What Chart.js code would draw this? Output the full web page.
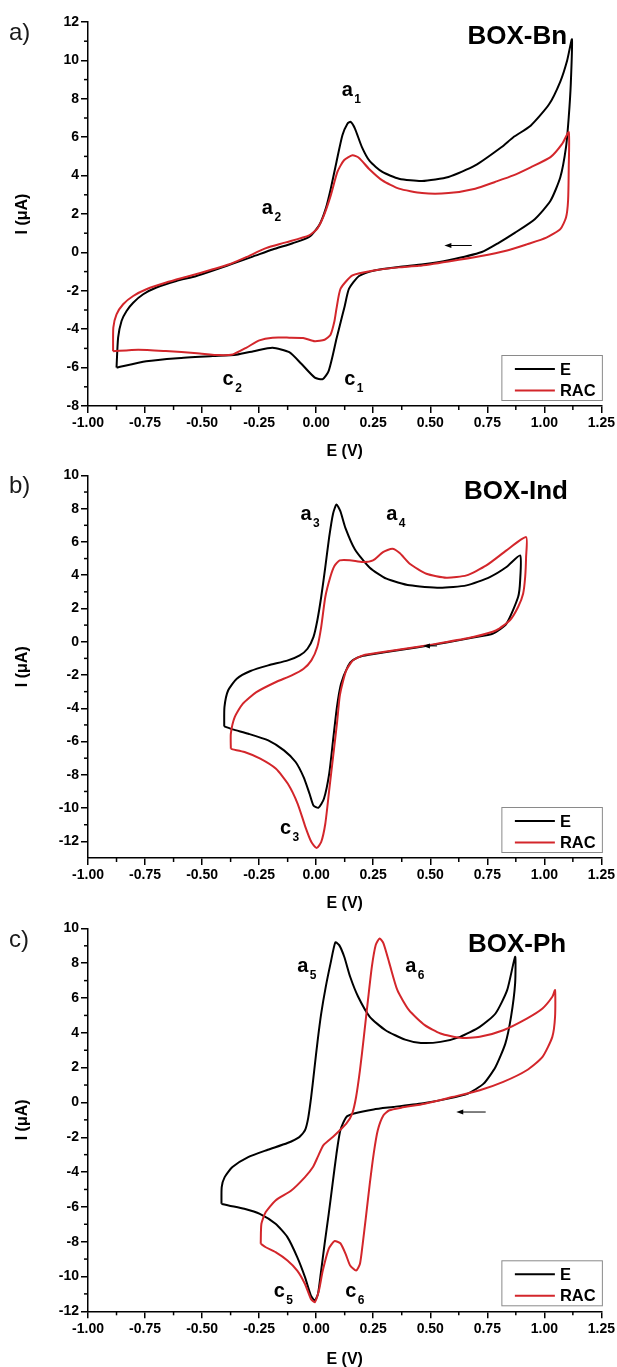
<!DOCTYPE html>
<html>
<head>
<meta charset="utf-8">
<title>CV BOX-Bn / BOX-Ind / BOX-Ph</title>
<script src="https://cdn.jsdelivr.net/npm/chart.js@4.4.1/dist/chart.umd.min.js"></script>
<style>
  html, body { margin: 0; padding: 0; background: #fff; }
  body { width: 617px; height: 1367px; position: relative; overflow: hidden; }
  canvas { position: absolute; left: 0; }
</style>
</head>
<body>
<canvas id="chartA" width="617" height="465" style="top:0px"></canvas>
<canvas id="chartB" width="617" height="453" style="top:465px"></canvas>
<canvas id="chartC" width="617" height="449" style="top:918px"></canvas>
<script>
// tick labels
const potentialTicks = [-1.00, -0.75, -0.50, -0.25, 0.00, 0.25, 0.50, 0.75, 1.00, 1.25];
const currentTicksA = [-8, -6, -4, -2, 0, 2, 4, 6, 8, 10, 12];
const currentTicksB = [-12, -10, -8, -6, -4, -2, 0, 2, 4, 6, 8, 10];
const currentTicksC = [-12, -10, -8, -6, -4, -2, 0, 2, 4, 6, 8, 10];
const seriesNames = ['E', 'RAC'];

// a) BOX-Bn, E
const bnE_V = [-0.875, -0.868, -0.853, -0.831, -0.802, -0.758, -0.700, -0.613, -0.525, -0.424, -0.365, -0.278, -0.191, -0.103, -0.031,
  0.013, 0.042, 0.064, 0.089, 0.115, 0.137, 0.151, 0.170, 0.200, 0.235, 0.290, 0.363, 0.464, 0.580, 0.697, 0.813, 0.864, 0.940, 1.020, 1.070, 1.100, 1.121,
  1.116, 1.107, 1.095, 1.070, 1.027, 0.958, 0.872, 0.800, 0.726, 0.580, 0.470, 0.362, 0.260, 0.188, 0.144, 0.125, 0.108, 0.089, 0.072, 0.054, 0.029,
  -0.006, -0.065, -0.118, -0.191, -0.264, -0.350, -0.453, -0.608, -0.745, -0.875];
const bnE_I = [-6.00, -4.44, -3.57, -3.05, -2.62, -2.18, -1.83, -1.49, -1.23, -0.83, -0.58, -0.22, 0.15, 0.48, 0.80,
  1.41, 2.28, 3.32, 4.71, 6.10, 6.70, 6.80, 6.45, 5.50, 4.75, 4.19, 3.84, 3.72, 3.93, 4.53, 5.49, 6.00, 6.60, 7.70, 8.90, 10.00, 11.10,
  8.79, 7.05, 5.48, 3.91, 2.69, 1.73, 1.03, 0.50, 0.02, -0.41, -0.62, -0.76, -0.93, -1.23, -1.89, -2.80, -3.60, -4.50, -5.40, -6.20, -6.60,
  -6.52, -5.80, -5.20, -4.97, -5.12, -5.33, -5.40, -5.51, -5.67, -6.00];
// a) BOX-Bn, RAC
const bnRac_V = [-0.890, -0.889, -0.875, -0.846, -0.802, -0.744, -0.657, -0.555, -0.453, -0.380, -0.307, -0.220, -0.133, -0.031,
  0.005, 0.034, 0.064, 0.093, 0.122, 0.159, 0.188, 0.231, 0.290, 0.363, 0.464, 0.580, 0.697, 0.784, 0.864, 0.940, 1.027, 1.078, 1.107,
  1.107, 1.104, 1.095, 1.070, 1.009, 0.923, 0.837, 0.717, 0.580, 0.450, 0.362, 0.260, 0.159, 0.107, 0.089, 0.080, 0.063, 0.037,
  -0.006, -0.057, -0.118, -0.191, -0.249, -0.307, -0.365, -0.424, -0.522, -0.659, -0.780, -0.890];
const bnRac_I = [-5.15, -3.92, -3.23, -2.70, -2.27, -1.92, -1.57, -1.23, -0.88, -0.62, -0.25, 0.22, 0.52, 0.89,
  1.24, 1.93, 2.97, 4.19, 4.80, 5.06, 4.92, 4.36, 3.75, 3.32, 3.09, 3.09, 3.32, 3.67, 4.01, 4.43, 4.96, 5.65, 6.26,
  4.43, 2.69, 1.82, 1.21, 0.77, 0.42, 0.10, -0.20, -0.47, -0.70, -0.78, -0.93, -1.20, -1.89, -2.93, -3.59, -4.29, -4.55,
  -4.63, -4.46, -4.44, -4.44, -4.58, -4.97, -5.31, -5.35, -5.25, -5.14, -5.07, -5.15];

// b) BOX-Ind, E
const indE_V = [-0.403, -0.402, -0.386, -0.348, -0.288, -0.210, -0.124, -0.072, -0.038, -0.012, 0.005, 0.022, 0.040, 0.057, 0.074, 0.089,
  0.106, 0.128, 0.170, 0.235, 0.308, 0.410, 0.542, 0.659, 0.761, 0.834, 0.894,
  0.894, 0.885, 0.834, 0.775, 0.688, 0.571, 0.440, 0.293, 0.205, 0.161, 0.140, 0.109, 0.091, 0.074, 0.057, 0.034, 0.010,
  -0.012, -0.029, -0.055, -0.090, -0.141, -0.210, -0.297, -0.366, -0.403];
const indE_I = [-5.09, -3.93, -2.93, -2.22, -1.76, -1.42, -1.12, -0.82, -0.42, 0.28, 1.28, 2.69, 4.49, 6.29, 7.70, 8.25,
  7.85, 6.85, 5.55, 4.45, 3.79, 3.39, 3.25, 3.39, 3.89, 4.49, 5.19,
  3.69, 2.69, 1.09, 0.49, 0.25, -0.05, -0.35, -0.65, -0.85, -1.10, -1.45, -2.53, -3.93, -5.93, -7.94, -9.44, -9.98,
  -9.84, -9.14, -8.14, -7.23, -6.53, -5.93, -5.53, -5.27, -5.09];
// b) BOX-Ind, RAC
const indRac_V = [-0.374, -0.374, -0.357, -0.322, -0.262, -0.176, -0.107, -0.055, -0.021, 0.005, 0.022, 0.040, 0.062, 0.080, 0.103,
  0.147, 0.205, 0.249, 0.293, 0.334, 0.366, 0.410, 0.483, 0.571, 0.659, 0.746, 0.834, 0.920,
  0.920, 0.916, 0.907, 0.885, 0.849, 0.790, 0.688, 0.571, 0.440, 0.293, 0.205, 0.161, 0.132, 0.115, 0.103, 0.091, 0.074, 0.057, 0.040, 0.022, 0.002,
  -0.021, -0.047, -0.081, -0.124, -0.176, -0.245, -0.314, -0.366, -0.374];
const indRac_I = [-6.43, -5.53, -4.53, -3.73, -3.03, -2.42, -2.02, -1.62, -1.12, -0.32, 0.88, 2.69, 3.89, 4.55, 4.89,
  4.90, 4.79, 4.89, 5.39, 5.59, 5.33, 4.69, 4.09, 3.85, 3.99, 4.59, 5.49, 6.29,
  5.09, 3.89, 2.89, 2.09, 1.29, 0.69, 0.28, -0.02, -0.32, -0.62, -0.82, -1.12, -1.72, -2.52, -3.30, -4.93, -6.93, -8.94, -10.94, -12.04, -12.40,
  -12.04, -11.14, -9.74, -8.54, -7.64, -7.03, -6.63, -6.47, -6.43];

// c) BOX-Ph, E
const phE_V = [-0.415, -0.414, -0.401, -0.367, -0.298, -0.212, -0.126, -0.074, -0.049, -0.035, -0.022, -0.008, 0.006, 0.022, 0.042, 0.063, 0.084,
  0.101, 0.123, 0.149, 0.184, 0.235, 0.304, 0.390, 0.459, 0.545, 0.631, 0.717, 0.786, 0.837, 0.872,
  0.872, 0.854, 0.829, 0.786, 0.734, 0.665, 0.579, 0.476, 0.338, 0.252, 0.166, 0.132, 0.106, 0.089, 0.072, 0.055, 0.037, 0.020, 0.008,
  -0.006, -0.023, -0.049, -0.083, -0.126, -0.178, -0.247, -0.315, -0.384, -0.415];
const phE_I = [-5.82, -4.86, -4.29, -3.71, -3.14, -2.72, -2.33, -1.99, -1.60, -0.90, 0.30, 1.90, 3.50, 5.10, 6.64, 7.99, 9.20,
  9.04, 8.37, 7.22, 6.07, 4.92, 4.15, 3.61, 3.42, 3.48, 3.77, 4.34, 5.11, 6.45, 8.37,
  6.84, 4.92, 3.38, 2.04, 1.08, 0.51, 0.22, -0.03, -0.26, -0.40, -0.64, -0.84, -1.60, -2.95, -4.67, -6.40, -8.12, -9.85, -11.00,
  -11.38, -11.10, -10.04, -8.89, -7.74, -6.97, -6.40, -6.11, -5.92, -5.82];
// c) BOX-Ph, RAC
const phRac_V = [-0.243, -0.240, -0.221, -0.178, -0.109, -0.049, -0.014, 0.008, 0.032, 0.080, 0.132, 0.158, 0.175, 0.192, 0.209, 0.227, 0.244, 0.261, 0.278,
  0.295, 0.321, 0.356, 0.407, 0.476, 0.545, 0.631, 0.717, 0.820, 0.923, 0.992, 1.035, 1.047,
  1.047, 1.035, 0.992, 0.923, 0.820, 0.717, 0.596, 0.476, 0.373, 0.321, 0.295, 0.270, 0.252, 0.235, 0.218, 0.204, 0.192, 0.175,
  0.149, 0.129, 0.106, 0.080, 0.055, 0.029, 0.012, -0.006, -0.023, -0.049, -0.083, -0.126, -0.178, -0.221, -0.243];
const phRac_I = [-8.12, -6.97, -6.30, -5.63, -5.06, -4.29, -3.71, -3.10, -2.45, -1.90, -1.22, -0.64, 0.31, 1.85, 3.77, 5.88, 7.79, 9.04, 9.42,
  9.14, 7.99, 6.45, 5.30, 4.44, 3.96, 3.71, 3.77, 4.15, 4.82, 5.40, 6.07, 6.45,
  4.92, 3.77, 2.62, 1.85, 1.18, 0.70, 0.31, -0.07, -0.30, -0.45, -0.74, -1.60, -2.95, -4.67, -6.59, -8.12, -9.27, -9.66,
  -9.37, -8.70, -8.09, -7.97, -8.41, -9.66, -10.81, -11.48, -11.29, -10.43, -9.66, -9.08, -8.60, -8.32, -8.12];

const FONT = '"Liberation Sans", Arial, Helvetica, sans-serif';
const RED = '#d3262b';

function pairs(vs, is) {
  return vs.map((v, i) => ({ x: v, y: is[i] }));
}

// minor ticks halfway between the major ones, drawn outside the axes
const minorTicks = {
  id: 'minorTicks',
  afterDraw(chart) {
    const { ctx, scales: { x, y } } = chart;
    ctx.save();
    ctx.strokeStyle = '#000';
    ctx.lineWidth = 1.5;
    const xs = x.ticks.map(t => t.value);
    for (let i = 0; i < xs.length - 1; i++) {
      const px = x.getPixelForValue((xs[i] + xs[i + 1]) / 2);
      ctx.beginPath();
      ctx.moveTo(px, x.top);
      ctx.lineTo(px, x.top + 4);
      ctx.stroke();
    }
    const ys = y.ticks.map(t => t.value);
    for (let i = 0; i < ys.length - 1; i++) {
      const py = y.getPixelForValue((ys[i] + ys[i + 1]) / 2);
      ctx.beginPath();
      ctx.moveTo(y.right, py);
      ctx.lineTo(y.right - 4, py);
      ctx.stroke();
    }
    ctx.restore();
  }
};

// panel letter, compound name, peak labels, scan arrow and legend box
const cvNotes = {
  id: 'cvNotes',
  afterDraw(chart, args, opts) {
    const { ctx, chartArea: ca, scales: { x, y } } = chart;
    ctx.save();
    ctx.textAlign = 'left';
    ctx.textBaseline = 'alphabetic';

    ctx.fillStyle = '#1a1a1a';
    ctx.font = `24px ${FONT}`;
    ctx.fillText(opts.letter, 9, opts.letterY);

    ctx.fillStyle = '#000';
    ctx.font = `bold 26px ${FONT}`;
    ctx.fillText(opts.name, x.getPixelForValue(opts.nameAt[0]), y.getPixelForValue(opts.nameAt[1]));

    opts.peaks.forEach(([main, sub, vx, vy]) => {
      const px = x.getPixelForValue(vx);
      const py = y.getPixelForValue(vy);
      ctx.font = `bold 20px ${FONT}`;
      ctx.fillText(main, px, py);
      const w = ctx.measureText(main).width;
      ctx.font = `bold 12px ${FONT}`;
      ctx.fillText(sub, px + w + 1.5, py + 7);
    });

    // scan direction arrow
    const [ax1, ax2, ay] = opts.arrow;
    const p1 = x.getPixelForValue(ax1), p2 = x.getPixelForValue(ax2), pa = y.getPixelForValue(ay);
    ctx.strokeStyle = '#000';
    ctx.lineWidth = 1;
    ctx.beginPath();
    ctx.moveTo(p1, pa);
    ctx.lineTo(p2 + 5, pa);
    ctx.stroke();
    ctx.beginPath();
    ctx.moveTo(p2, pa);
    ctx.lineTo(p2 + 7, pa - 2.5);
    ctx.lineTo(p2 + 7, pa + 2.5);
    ctx.closePath();
    ctx.fill();

    // legend
    const right = ca.right + 1.5, left = right - 101.5;
    const bottom = ca.bottom - 5, top = bottom - 46;
    ctx.fillStyle = '#fff';
    ctx.fillRect(left, top, right - left, bottom - top);
    ctx.strokeStyle = '#8a8a8a';
    ctx.lineWidth = 1;
    ctx.strokeRect(left + 0.5, top + 0.5, right - left - 1, bottom - top - 1);
    const rows = [[seriesNames[0], '#000', top + 14], [seriesNames[1], RED, top + 35.5]];
    ctx.font = `bold 16.5px ${FONT}`;
    ctx.textBaseline = 'middle';
    rows.forEach(([label, color, ry]) => {
      ctx.strokeStyle = color;
      ctx.lineWidth = 2;
      ctx.beginPath();
      ctx.moveTo(left + 13.5, ry);
      ctx.lineTo(left + 53.5, ry);
      ctx.stroke();
      ctx.fillStyle = '#000';
      ctx.fillText(label, left + 58.5, ry + 1);
    });
    ctx.restore();
  }
};

function makePanel(id, p) {
  return new Chart(document.getElementById(id), {
    type: 'scatter',
    data: {
      datasets: [
        { label: seriesNames[0], data: pairs(p.eV, p.eI), borderColor: '#000', order: 2 },
        { label: seriesNames[1], data: pairs(p.rV, p.rI), borderColor: RED, order: 1 }
      ]
    },
    options: {
      responsive: false,
      animation: false,
      showLine: true,
      layout: { padding: { top: p.padTop, right: 15.3, left: 0, bottom: 0 } },
      elements: {
        point: { radius: 0, hoverRadius: 0 },
        line: { borderWidth: 2, tension: 0.2, fill: false }
      },
      scales: {
        x: {
          type: 'linear',
          min: -1,
          max: 1.25,
          afterBuildTicks: s => { s.ticks = potentialTicks.map(v => ({ value: v })); },
          afterFit: s => { s.height = p.xHeight; },
          ticks: {
            callback: v => v.toFixed(2),
            color: '#000',
            font: { family: FONT, size: 14, weight: 'bold' },
            padding: 2,
            maxRotation: 0,
            autoSkip: false
          },
          grid: { drawOnChartArea: false, drawTicks: true, tickLength: 7, color: '#000', lineWidth: 1.5 },
          border: { display: true, color: '#000', width: 1.5 },
          title: {
            display: true,
            text: 'E (V)',
            color: '#000',
            font: { family: FONT, size: 16, weight: 'bold', lineHeight: 0.8 },
            padding: { top: 0, bottom: p.titlePad }
          }
        },
        y: {
          type: 'linear',
          min: p.yMin,
          max: p.yMax,
          afterBuildTicks: s => { s.ticks = p.yTicks.map(v => ({ value: v })); },
          afterFit: s => { s.width = 88; },
          ticks: {
            callback: v => String(v),
            color: '#000',
            font: { family: FONT, size: 14, weight: 'bold' },
            padding: 2,
            autoSkip: false
          },
          grid: { drawOnChartArea: false, drawTicks: true, tickLength: 7, color: '#000', lineWidth: 1.5 },
          border: { display: true, color: '#000', width: 1.5 },
          title: {
            display: true,
            text: 'I (μA)',
            color: '#000',
            font: { family: FONT, size: 16, weight: 'bold', lineHeight: 0.8 },
            padding: { top: 16.6, bottom: 0 }
          }
        }
      },
      plugins: {
        legend: { display: false },
        tooltip: { enabled: false },
        cvNotes: p.notes
      }
    },
    plugins: [minorTicks, cvNotes]
  });
}

makePanel('chartA', {
  eV: bnE_V, eI: bnE_I, rV: bnRac_V, rI: bnRac_I,
  yMin: -8, yMax: 12, yTicks: currentTicksA,
  padTop: 22, xHeight: 59, titlePad: 6.6,
  notes: {
    letter: 'a)', letterY: 40,
    name: 'BOX-Bn', nameAt: [0.663, 10.88],
    peaks: [['a', '1', 0.112, 8.12], ['a', '2', -0.238, 1.99], ['c', '2', -0.41, -6.9], ['c', '1', 0.123, -6.9]],
    arrow: [0.682, 0.562, 0.36]
  }
});

makePanel('chartB', {
  eV: indE_V, eI: indE_I, rV: indRac_V, rI: indRac_I,
  yMin: -13, yMax: 10, yTicks: currentTicksB,
  padTop: 10, xHeight: 60, titlePad: 7.6,
  notes: {
    letter: 'b)', letterY: 28,
    name: 'BOX-Ind', nameAt: [0.648, 8.59],
    peaks: [['a', '3', -0.069, 7.3], ['a', '4', 0.307, 7.3], ['c', '3', -0.159, -11.54]],
    arrow: [0.53, 0.468, -0.25]
  }
});

makePanel('chartC', {
  eV: phE_V, eI: phE_I, rV: phRac_V, rI: phRac_I,
  yMin: -12, yMax: 10, yTicks: currentTicksC,
  padTop: 10.4, xHeight: 55.7, titlePad: 0.6,
  notes: {
    letter: 'c)', letterY: 29,
    name: 'BOX-Ph', nameAt: [0.665, 8.64],
    peaks: [['a', '5', -0.083, 7.5], ['a', '6', 0.39, 7.5], ['c', '5', -0.186, -11.19], ['c', '6', 0.127, -11.19]],
    arrow: [0.743, 0.614, -0.55]
  }
});
</script>
</body>
</html>
